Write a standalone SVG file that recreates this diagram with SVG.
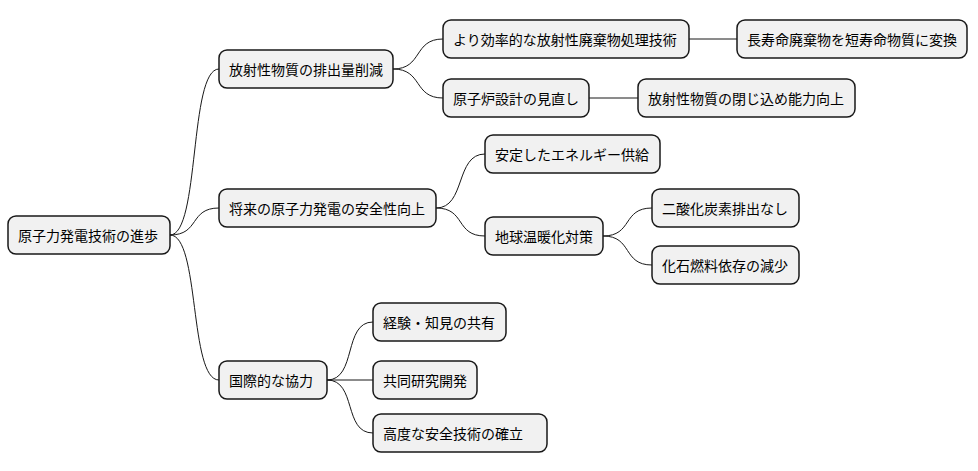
<svg xmlns="http://www.w3.org/2000/svg" width="978" height="471" viewBox="0 0 978 471">
<style>
.n rect{fill:#f1f1f1;stroke:#181818;stroke-width:1.5}
.n text{font-family:"Noto Sans CJK JP","Noto Sans",sans-serif;font-size:14px;fill:#000;dominant-baseline:central}
#edges path{fill:none;stroke:#181818;stroke-width:1}
</style>
<rect width="978" height="471" fill="#fff"/>
<g id="edges">
<path d="M170,235 C200,235 189,69 219,69"/>
<path d="M170,235 C200,235 189,208 219,208"/>
<path d="M170,235 C200,235 189,380 219,380"/>
<path d="M393,69 C423,69 413,39 443,39"/>
<path d="M393,69 C423,69 413,98 443,98"/>
<path d="M689,39 L737,39"/>
<path d="M589,98 L638,98"/>
<path d="M436,208 C466,208 455,154 485,154"/>
<path d="M436,208 C466,208 455,236 485,236"/>
<path d="M603,236 C633,236 622,208 652,208"/>
<path d="M603,236 C633,236 622,265 652,265"/>
<path d="M327,380 C357,380 343,322 373,322"/>
<path d="M327,380 L373,380"/>
<path d="M327,380 C357,380 343,433 373,433"/>
</g>
<g id="root" class="n"><rect x="8" y="216" width="162" height="38" rx="8"/><text x="18" y="235">原子力発電技術の進歩</text></g>
<g id="a" class="n"><rect x="219" y="50" width="174" height="38" rx="8"/><text x="229" y="69">放射性物質の排出量削減</text></g>
<g id="b" class="n"><rect x="219" y="189" width="217" height="38" rx="8"/><text x="229" y="208">将来の原子力発電の安全性向上</text></g>
<g id="c" class="n"><rect x="219" y="361" width="108" height="38" rx="8"/><text x="229" y="380">国際的な協力</text></g>
<g id="a1" class="n"><rect x="443" y="20" width="246" height="38" rx="8"/><text x="453" y="39">より効率的な放射性廃棄物処理技術</text></g>
<g id="a2" class="n"><rect x="443" y="79" width="146" height="38" rx="8"/><text x="453" y="98">原子炉設計の見直し</text></g>
<g id="a1a" class="n"><rect x="737" y="20" width="230" height="38" rx="8"/><text x="747" y="39">長寿命廃棄物を短寿命物質に変換</text></g>
<g id="a2a" class="n"><rect x="638" y="79" width="217" height="38" rx="8"/><text x="648" y="98">放射性物質の閉じ込め能力向上</text></g>
<g id="b1" class="n"><rect x="485" y="135" width="175" height="38" rx="8"/><text x="495" y="154">安定したエネルギー供給</text></g>
<g id="b2" class="n"><rect x="485" y="217" width="118" height="38" rx="8"/><text x="495" y="236">地球温暖化対策</text></g>
<g id="b2a" class="n"><rect x="652" y="189" width="147" height="38" rx="8"/><text x="662" y="208">二酸化炭素排出なし</text></g>
<g id="b2b" class="n"><rect x="652" y="246" width="147" height="38" rx="8"/><text x="662" y="265">化石燃料依存の減少</text></g>
<g id="c1" class="n"><rect x="373" y="303" width="133" height="38" rx="8"/><text x="383" y="322">経験・知見の共有</text></g>
<g id="c2" class="n"><rect x="373" y="361" width="104" height="38" rx="8"/><text x="383" y="380">共同研究開発</text></g>
<g id="c3" class="n"><rect x="373" y="414" width="174" height="38" rx="8"/><text x="383" y="433">高度な安全技術の確立</text></g>
</svg>
